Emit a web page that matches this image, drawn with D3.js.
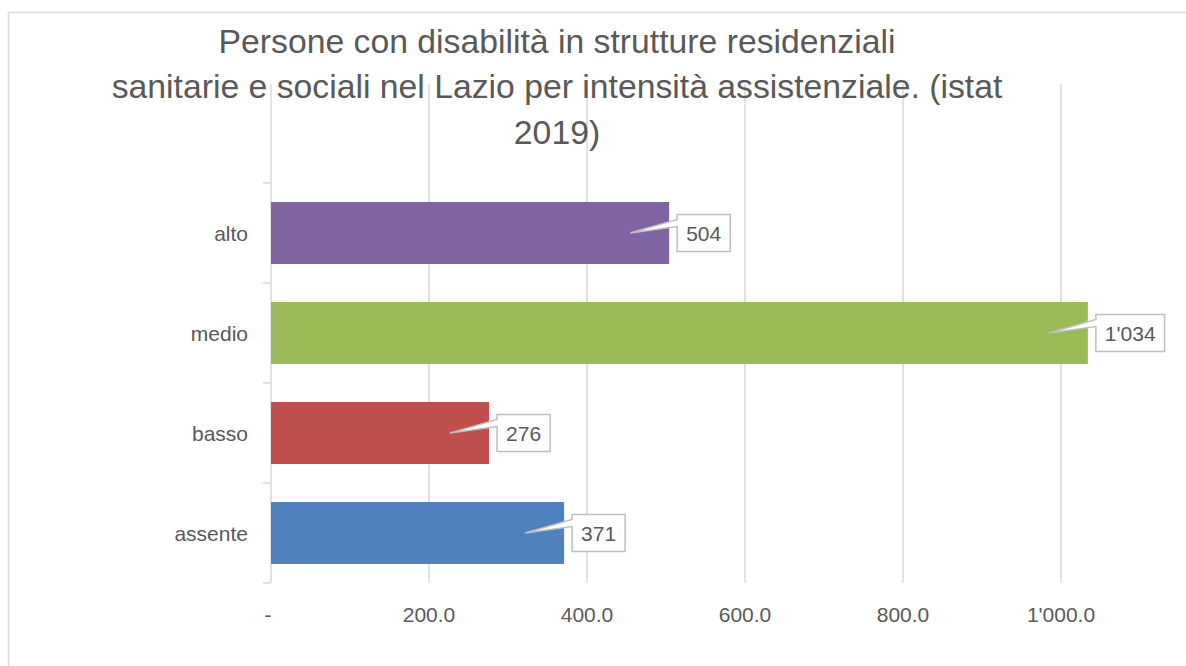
<!DOCTYPE html>
<html>
<head>
<meta charset="utf-8">
<script src="https://cdn.jsdelivr.net/npm/d3@7"></script>
<style>
  html, body { margin: 0; padding: 0; background: #fff; }
  svg { display: block; }
  text { font-family: "Liberation Sans", Arial, sans-serif; fill: #595959; }
</style>
</head>
<body>
<svg id="chart" width="1186" height="666"></svg>
<script>
// ---- data ----
const categories = ["assente", "basso", "medio", "alto"];
const values = [371, 276, 1034, 504];
const colors = ["#4F81BD", "#C0504D", "#9BBB59", "#8064A2"];
const xTicks = [0, 200, 400, 600, 800, 1000];
const titleLines = [
  "Persone con disabilità in strutture residenziali",
  "sanitarie e sociali nel Lazio per intensità assistenziale. (istat",
  "2019)"
];

// ---- layout ----
const W = 1186, H = 666;
const plot = { left: 271, right: 1140, top: 84, bottom: 583 };
const catTop = 183; // top of the category band range

const svg = d3.select("#chart");

// chart border
svg.append("rect")
  .attr("x", 8.5).attr("y", 12.5)
  .attr("width", 1300).attr("height", 800)
  .attr("fill", "none").attr("stroke", "#d9d9d9").attr("stroke-width", 1.5);

const x = d3.scaleLinear().domain([0, 1100]).range([plot.left, plot.left + 1100 * 0.79]);
const y = d3.scaleBand().domain(categories).range([plot.bottom, catTop]).paddingInner(0.38).paddingOuter(0.19);
const yBand = d3.scaleBand().domain(categories).range([plot.bottom, catTop]);

const fmtTick = v => v === 0 ? "-" : d3.format(",.1f")(v).replace(/,/g, "'");
const fmtVal = v => d3.format(",")(v).replace(/,/g, "'");

// gridlines
svg.append("g").selectAll("line").data(xTicks.slice(1)).join("line")
  .attr("x1", d => x(d)).attr("x2", d => x(d))
  .attr("y1", plot.top).attr("y2", plot.bottom)
  .attr("stroke", "#d9d9d9").attr("stroke-width", 1.5);

// x tick labels
svg.append("g").selectAll("text").data(xTicks).join("text")
  .attr("x", d => x(d) - (d === 0 ? 3 : 0)).attr("y", 622)
  .attr("text-anchor", "middle")
  .style("font-size", "21px")
  .text(fmtTick);

// y axis line and ticks
svg.append("line")
  .attr("x1", plot.left).attr("x2", plot.left)
  .attr("y1", plot.top).attr("y2", plot.bottom)
  .attr("stroke", "#d9d9d9").attr("stroke-width", 1.5);
const boundaries = categories.map(c => yBand(c)).concat([plot.bottom]);
svg.append("g").selectAll("line").data(boundaries).join("line")
  .attr("x1", plot.left - 8).attr("x2", plot.left)
  .attr("y1", d => d).attr("y2", d => d)
  .attr("stroke", "#d9d9d9").attr("stroke-width", 1.5);

// category labels
svg.append("g").selectAll("text").data(categories).join("text")
  .attr("x", 248).attr("y", d => yBand(d) + yBand.bandwidth() / 2 + 8)
  .attr("text-anchor", "end")
  .style("font-size", "21px")
  .text(d => d);

// bars
const data = categories.map((c, i) => ({ c, v: values[i], color: colors[i] }));
svg.append("g").selectAll("rect").data(data).join("rect")
  .attr("x", x(0)).attr("y", d => y(d.c))
  .attr("width", d => x(d.v) - x(0)).attr("height", y.bandwidth())
  .attr("fill", d => d.color);

// data label callouts
const lab = svg.append("g");
data.forEach(d => {
  const xe = x(d.v);
  const cy = yBand(d.c) + yBand.bandwidth() / 2;
  const tipX = xe - 39, tipY = cy;
  const t = lab.append("text").style("font-size", "21px").text(fmtVal(d.v));
  const tw = t.node().getComputedTextLength();
  const bw = tw + 18, bh = 37;
  const bx = xe + 8, by = cy - 18.5;
  const p = d3.path();
  p.moveTo(bx, by);
  p.lineTo(bx + bw, by);
  p.lineTo(bx + bw, by + bh);
  p.lineTo(bx, by + bh);
  p.lineTo(bx, by + 12);
  p.lineTo(tipX, tipY);
  p.lineTo(bx, by + 5);
  p.closePath();
  lab.insert("path", "text").attr("d", p.toString())
    .attr("fill", "#fff").attr("stroke", "#bfbfbf").attr("stroke-width", 1.5);
  t.attr("x", bx + bw / 2).attr("y", cy + 7.5).attr("text-anchor", "middle");
});

// title
const titleG = svg.append("g");
const baselines = [53, 98, 144];
const tl = titleG.selectAll("text").data(titleLines).join("text")
  .attr("x", 557).attr("y", (d, i) => baselines[i])
  .attr("text-anchor", "middle")
  .style("font-size", "30px")
  .text(d => d);
const w2 = tl.nodes()[1].getComputedTextLength();
const fs = 30 * 891 / w2;
tl.style("font-size", fs + "px");
</script>
</body>
</html>
